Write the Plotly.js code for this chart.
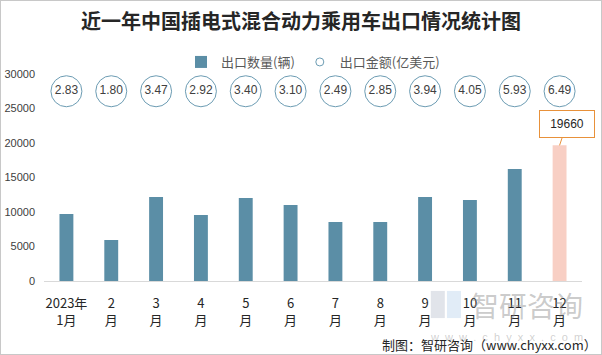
<!DOCTYPE html>
<html>
<head>
<meta charset="utf-8">
<script src="https://cdn.plot.ly/plotly-3.0.1.min.js"></script>
<style>
html,body{margin:0;padding:0;background:#fff;}
#wrap{width:602px;height:355px;box-sizing:border-box;border:1px solid #c8c8c8;overflow:hidden;}
#chart{width:600px;height:353px;}
</style>
</head>
<body>
<div id="wrap"><div id="chart"></div></div>
<script>
// Data
const months = ["2023年<br>1月","2<br>月","3<br>月","4<br>月","5<br>月","6<br>月","7<br>月","8<br>月","9<br>月","10<br>月","11<br>月","12<br>月"];
const exportQty = [9710, 5940, 12170, 9570, 12030, 11010, 8550, 8550, 12170, 11740, 16230, 19660];
const exportAmt = [2.83, 1.80, 3.47, 2.92, 3.40, 3.10, 2.49, 2.85, 3.94, 4.05, 5.93, 6.49];
const yTicks = [0, 5000, 10000, 15000, 20000, 25000, 30000];

const cjk = '"Noto Sans CJK SC", "Noto Sans", sans-serif';
const barColor = '#5B8EA6';
const hiColor = '#F8CFC4';
const circleLine = '#6C9CB3';
const circleRow = 27500;

const lastIdx = exportQty.length - 1;

const traces = [
  {
    type: 'bar',
    name: '出口数量(辆)',
    x: months,
    y: exportQty,
    width: 0.31,
    marker: {
      color: exportQty.map((v, i) => i === lastIdx ? hiColor : barColor),
      line: {width: 0}
    },
    hoverinfo: 'x+y',
    showlegend: true
  },
  {
    type: 'scatter',
    mode: 'markers+text',
    name: '出口金额(亿美元)',
    x: months,
    y: months.map(() => circleRow),
    text: exportAmt.map(v => v.toFixed(2)),
    textposition: 'middle center',
    textfont: {family: 'Liberation Sans, Arial, sans-serif', size: 12, color: '#404040'},
    marker: {symbol: 'circle', size: 31, color: 'rgba(255,255,255,0)', line: {color: circleLine, width: 1}},
    showlegend: false,
    cliponaxis: false
  },
  {
    type: 'scatter',
    mode: 'markers',
    name: '出口金额(亿美元)',
    x: [null],
    y: [null],
    marker: {symbol: 'circle-open', size: 8, color: circleLine, line: {color: circleLine, width: 1}},
    showlegend: true
  }
];

const layout = {
  width: 600,
  height: 353,
  margin: {l: 43, r: 19, t: 73, b: 73},
  paper_bgcolor: '#ffffff',
  plot_bgcolor: '#ffffff',
  title: {
    text: '<b>近一年中国插电式混合动力乘用车出口情况统计图</b>',
    x: 0.5, xanchor: 'center',
    y: 0.9405, yanchor: 'middle', yref: 'container',
    font: {family: cjk, size: 20, color: '#262626'}
  },
  showlegend: true,
  legend: {
    orientation: 'h',
    x: 0.5, xanchor: 'center',
    y: 1.058, yanchor: 'middle',
    font: {family: cjk, size: 13, color: '#595959'},
    itemsizing: 'trace',
    itemwidth: 30,
    traceorder: 'normal',
    bgcolor: 'rgba(0,0,0,0)'
  },
  xaxis: {
    type: 'category',
    range: [-0.5, months.length - 0.5],
    showline: true,
    linecolor: '#d9d9d9',
    linewidth: 1,
    showgrid: false,
    zeroline: false,
    ticks: '',
    tickfont: {family: cjk, size: 13, color: '#262626'},
    ticklabelstandoff: 10,
    fixedrange: true
  },
  yaxis: {
    range: [0, 30000],
    tickvals: yTicks,
    ticktext: yTicks.map(String),
    showgrid: false,
    zeroline: false,
    showline: false,
    ticks: '',
    tickfont: {family: 'Liberation Sans, Arial, sans-serif', size: 11, color: '#404040'},
    ticklabelstandoff: 8,
    fixedrange: true
  },
  annotations: [
    {
      x: months[lastIdx], y: exportQty[lastIdx],
      xref: 'x', yref: 'y',
      text: String(exportQty[lastIdx]),
      showarrow: true, arrowhead: 0, arrowwidth: 1, arrowcolor: '#E8913A',
      ax: 7, ay: -21,
      bordercolor: '#E8913A', borderwidth: 1, borderpad: 2,
      bgcolor: '#ffffff',
      width: 50, height: 22,
      font: {family: 'Liberation Sans, Arial, sans-serif', size: 12, color: '#262626'}
    },
    {
      xref: 'paper', yref: 'paper', x: 0.898, y: -0.116,
      xanchor: 'center', yanchor: 'middle',
      text: '智研咨询', showarrow: false,
      font: {family: cjk, size: 28, color: 'rgba(140,140,140,0.45)'}
    },
    {
      xref: 'paper', yref: 'paper', x: 0.859, y: -0.271,
      xanchor: 'center', yanchor: 'middle',
      text: 'w  w  w  .  c  h  y  x  x  .  c  o  m', showarrow: false,
      font: {family: 'Liberation Sans, Arial, sans-serif', size: 11, color: 'rgba(150,150,150,0.45)'}
    },
    {
      xref: 'paper', yref: 'paper', x: 1.031, y: -0.309,
      xanchor: 'right', yanchor: 'middle',
      text: '制图：智研咨询（www.chyxx.com）', showarrow: false,
      font: {family: cjk, size: 13, color: '#262626'}
    }
  ],
  shapes: [
    {type: 'rect', xref: 'paper', yref: 'paper', x0: 0.719, x1: 0.745, y0: -0.179, y1: -0.048,
     fillcolor: 'rgba(120,130,160,0.22)', line: {width: 0}, layer: 'above'},
    {type: 'rect', xref: 'paper', yref: 'paper', x0: 0.749, x1: 0.775, y0: -0.179, y1: -0.048,
     fillcolor: 'rgba(120,170,220,0.22)', line: {width: 0}, layer: 'above'}
  ]
};

Plotly.newPlot('chart', traces, layout, {displayModeBar: false, staticPlot: true});
</script>
</body>
</html>
